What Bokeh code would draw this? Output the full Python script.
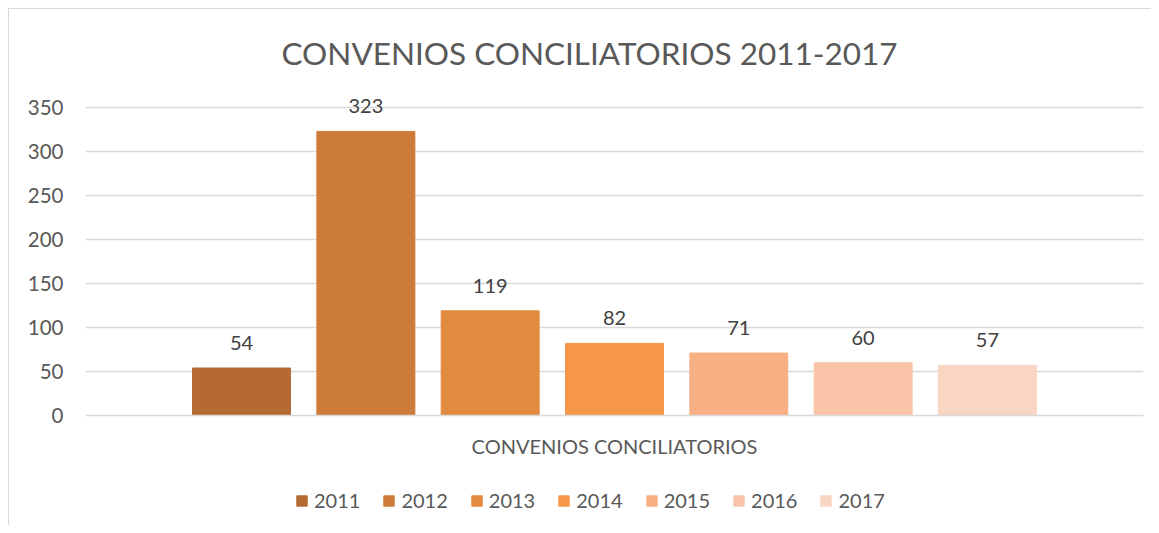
from bokeh.plotting import figure
from bokeh.layouts import column
from bokeh.models import (ColumnDataSource, Range1d, FixedTicker, Label, LabelSet,
                          Legend, LegendItem)
from bokeh.core.properties import value
from bokeh.embed import file_html
from bokeh.resources import INLINE

# ---- data ----
years = ["2011", "2012", "2013", "2014", "2015", "2016", "2017"]
values = [54, 323, 119, 82, 71, 60, 57]
colors = ["#B46A32", "#CD7B38", "#E38A41", "#F7974A", "#F8AF84", "#F9C4A8", "#F9D5C3"]
category = "CONVENIOS CONCILIATORIOS"
title_text = "CONVENIOS CONCILIATORIOS 2011-2017"
y_ticks = [0, 50, 100, 150, 200, 250, 300, 350]

FONT = "Lato"
step = 0.1175
bar_w = 0.0926
xs = [0.5 + (i - (len(years) - 1) / 2) * step for i in range(len(years))]

src = ColumnDataSource(dict(x=xs, top=values, color=colors, year=years,
                            label=[str(v) for v in values]))

W = 1142
p = figure(width=W, height=461, output_backend="svg", toolbar_location=None,
           x_range=Range1d(0, 1), y_range=Range1d(0, 440),
           min_border_left=76, min_border_right=8, min_border_top=19,
           min_border_bottom=55)
p.outline_line_color = None
p.background_fill_color = "white"
p.border_fill_color = "white"

r = p.vbar(x="x", top="top", width=bar_w, color="color", source=src)

labels = LabelSet(x="x", y="top", text="label", source=src, text_align="center",
                  text_baseline="middle", y_offset=25, text_font=value(FONT),
                  text_font_size="20px", text_color="#404040")
p.add_layout(labels)

# axes
p.yaxis.ticker = FixedTicker(ticks=y_ticks)
p.yaxis.axis_line_color = None
p.yaxis.major_tick_line_color = None
p.yaxis.minor_tick_line_color = None
p.yaxis.major_label_text_font = FONT
p.yaxis.major_label_text_font_size = "20.5px"
p.yaxis.major_label_text_color = "#595959"
p.yaxis.major_label_standoff = 16

p.xaxis.ticker = FixedTicker(ticks=[0.5])
p.xaxis.major_label_overrides = {0.5: category}
p.xaxis.axis_line_color = "#d9d9d9"
p.xaxis.axis_line_width = 1.5
p.xaxis.major_tick_line_color = None
p.xaxis.minor_tick_line_color = None
p.xaxis.major_label_text_font = FONT
p.xaxis.major_label_text_font_size = "20px"
p.xaxis.major_label_text_color = "#595959"
p.xaxis.major_label_standoff = 12

p.xgrid.grid_line_color = None
p.ygrid.ticker = FixedTicker(ticks=y_ticks)
p.ygrid.grid_line_color = "#d9d9d9"
p.ygrid.grid_line_width = 1.3

# title
p.add_layout(Label(x=0.4764, y=412.5, text=title_text, text_align="center",
                   text_baseline="middle", text_font=FONT, text_font_size="31.5px",
                   text_color="#595959"))

# legend (separate strip below the chart)
lg = figure(width=W, height=55, output_backend="svg", toolbar_location=None,
            x_range=Range1d(0, 1), y_range=Range1d(1000, 1001),
            min_border=0, x_axis_type=None, y_axis_type=None)
lg.outline_line_color = None
lg.xgrid.grid_line_color = None
lg.ygrid.grid_line_color = None
lr = lg.vbar(x="x", top="top", width=bar_w, color="color", source=src)
items = [LegendItem(label=y, renderers=[lr], index=i) for i, y in enumerate(years)]
legend = Legend(items=items, orientation="horizontal", location=(210, 13),
                glyph_width=13, glyph_height=13, label_text_font=FONT,
                label_text_font_size="20px", label_text_color="#595959",
                spacing=22, label_standoff=6, border_line_color=None,
                background_fill_alpha=0, margin=0, padding=4)
lg.add_layout(legend, "center")

layout = column(p, lg, spacing=0)
layout.styles = {"margin-left": "8px", "margin-top": "8px",
                 "border-top": "1px solid #d9d9d9", "border-left": "1px solid #d9d9d9"}
open("out.html", "w").write(file_html(layout, INLINE))
